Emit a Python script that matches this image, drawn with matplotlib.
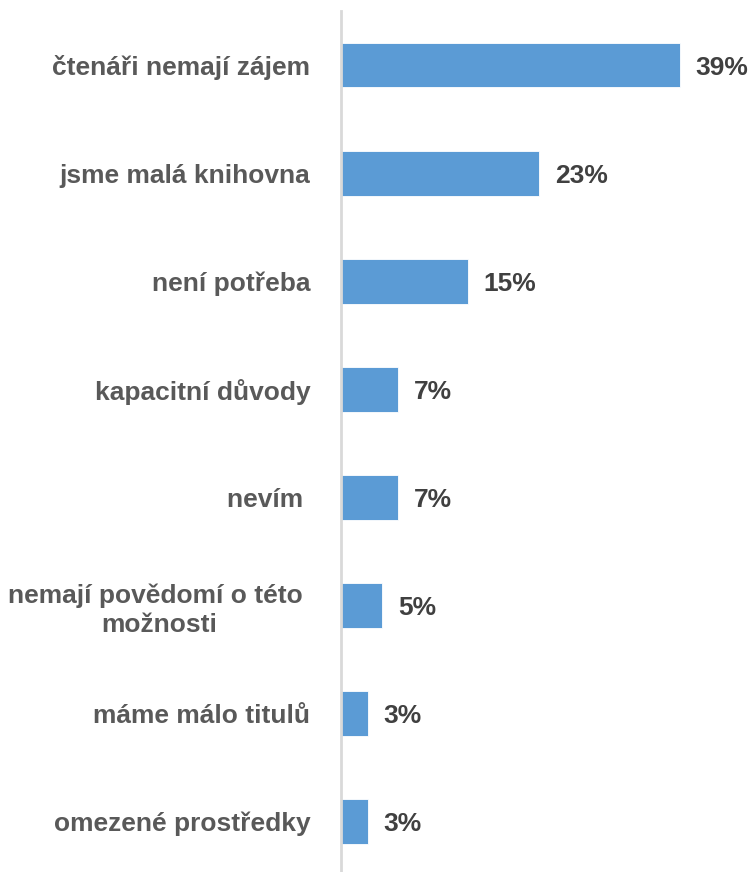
import matplotlib.pyplot as plt
from matplotlib import font_manager

# data
categories = ['čtenáři nemají zájem', 'jsme malá knihovna', 'není potřeba',
              'kapacitní důvody', 'nevím ', 'nemají povědomí o této \nmožnosti',
              'máme málo titulů', 'omezené prostředky']
values = [38.8, 22.7, 14.5, 6.5, 6.5, 4.7, 3.1, 3.1]
value_labels = ['39%', '23%', '15%', '7%', '7%', '5%', '3%', '3%']

names = {f.name for f in font_manager.fontManager.ttflist}
font = 'Liberation Sans Narrow' if 'Liberation Sans Narrow' in names else 'Liberation Sans'
plt.rcParams['font.family'] = [font, 'DejaVu Sans']

fig = plt.figure(figsize=(7.53, 8.72), dpi=100)
ax = fig.add_axes([341 / 753, -0.004, 1 - 341 / 753, 0.991])

y = list(range(len(categories)))
ax.barh(y, values, height=0.41, color='#5B9BD5', edgecolor='white', linewidth=0.6)

for yi, v, lab in zip(y, values, value_labels):
    ax.text(v + 1.8, yi, lab, va='center_baseline', ha='left', fontsize=19,
            fontweight='bold', color='#404040')

ax.set_yticks(y)
ax.set_yticklabels(categories, fontsize=19, fontweight='bold', color='#595959',
                   multialignment='center', linespacing=1.25)
ax.tick_params(axis='y', length=0, pad=22)
ax.set_xticks([])
ax.set_xlim(0, 47.2)
ax.set_ylim(7.5, -0.5)

for s in ['top', 'right', 'bottom']:
    ax.spines[s].set_visible(False)
ax.spines['left'].set_color('#D9D9D9')
ax.spines['left'].set_linewidth(2)

fig.savefig('out.png', dpi=100)
